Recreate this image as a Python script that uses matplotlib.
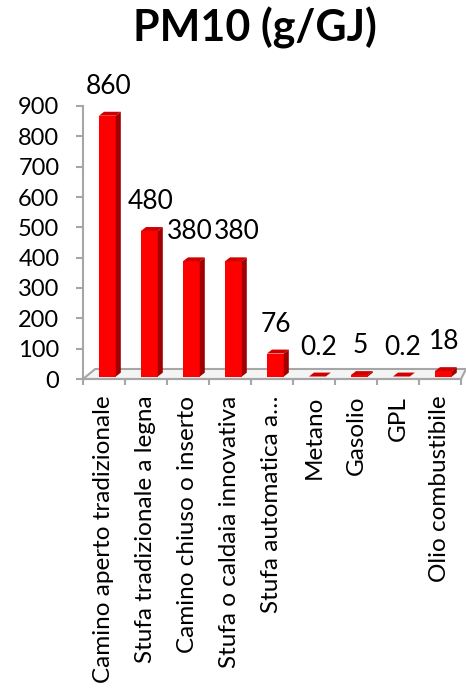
import numpy as np
import matplotlib.pyplot as plt
from matplotlib.patches import Polygon

plt.rcParams['font.family'] = ['Lato', 'DejaVu Sans']

categories = [
    "Camino aperto tradizionale",
    "Stufa tradizionale a legna",
    "Camino chiuso o inserto",
    "Stufa o caldaia innovativa",
    "Stufa automatica a\u2026",
    "Metano",
    "Gasolio",
    "GPL",
    "Olio combustibile",
]
values = [860, 480, 380, 380, 76, 0.2, 5, 0.2, 18]
value_labels = ["860", "480", "380", "380", "76", "0.2", "5", "0.2", "18"]
y_ticks = [0, 100, 200, 300, 400, 500, 600, 700, 800, 900]


def main():
    fig = plt.figure(figsize=(4.66, 6.9), dpi=100)
    ax = fig.add_axes([83 / 466, 1 - 379 / 690, 378 / 466, 273 / 690])
    ax.set_xlim(-0.5, 8.5)
    ax.set_ylim(0, 900)

    grey = "#a6a6a6"

    # floor of the 3d box
    floor = Polygon([(-0.5, 0), (8.5, 0), (8.62, 33), (-0.21, 33)],
                    closed=True, facecolor="#f4f4f4", edgecolor=grey,
                    linewidth=1.5, clip_on=False, zorder=1)
    ax.add_patch(floor)

    # 3d bars: front face + top + side
    x = np.arange(len(values))
    base = 8
    width = 0.40
    dx = 0.12
    dy = 13
    left = x - 0.12
    ax.bar(left, values, width=width, bottom=base, align="edge",
           color="#ff0000", zorder=3)
    for xl, v in zip(left, values):
        top = base + v
        ax.add_patch(Polygon([(xl, top), (xl + width, top),
                              (xl + width + dx, top + dy), (xl + dx, top + dy)],
                             closed=True, facecolor="#d00000", edgecolor="none",
                             zorder=3, clip_on=False))
        ax.add_patch(Polygon([(xl + width, base), (xl + width, top),
                              (xl + width + dx, top + dy), (xl + width + dx, base + dy)],
                             closed=True, facecolor="#a00000", edgecolor="none",
                             zorder=3, clip_on=False))

    # the two 380 labels sit right next to each other, nudge them apart a bit
    nudge = {2: -2, 3: 2}
    for xi, v, lab in zip(x, values, value_labels):
        ax.annotate(lab, (xi + 0.1, base + v + dy), xytext=(nudge.get(xi, 0), 13),
                    textcoords="offset points", ha="center", va="baseline",
                    fontsize=19, annotation_clip=False)

    ax.set_yticks(y_ticks)
    ax.set_yticklabels([str(t) for t in y_ticks], fontsize=17)
    ax.tick_params(axis="y", length=5, width=1.5, color=grey, pad=12)

    ax.set_xticks(x)
    ax.set_xticklabels(categories, rotation=90, fontsize=17.5, va="top")
    ax.tick_params(axis="x", which="major", length=0, pad=12)
    ax.set_xticks(np.arange(-0.5, 9, 1), minor=True)
    ax.tick_params(axis="x", which="minor", length=4, width=1.5, color=grey)

    for side in ["top", "right"]:
        ax.spines[side].set_visible(False)
    for side in ["left", "bottom"]:
        ax.spines[side].set_color(grey)
        ax.spines[side].set_linewidth(1.5)

    fig.text(255 / 466, 1 - 28 / 690, "PM10 (g/GJ)", ha="center", va="center",
             fontsize=31, fontweight="bold")

    fig.savefig("out.png", dpi=100)


if __name__ == "__main__":
    main()
